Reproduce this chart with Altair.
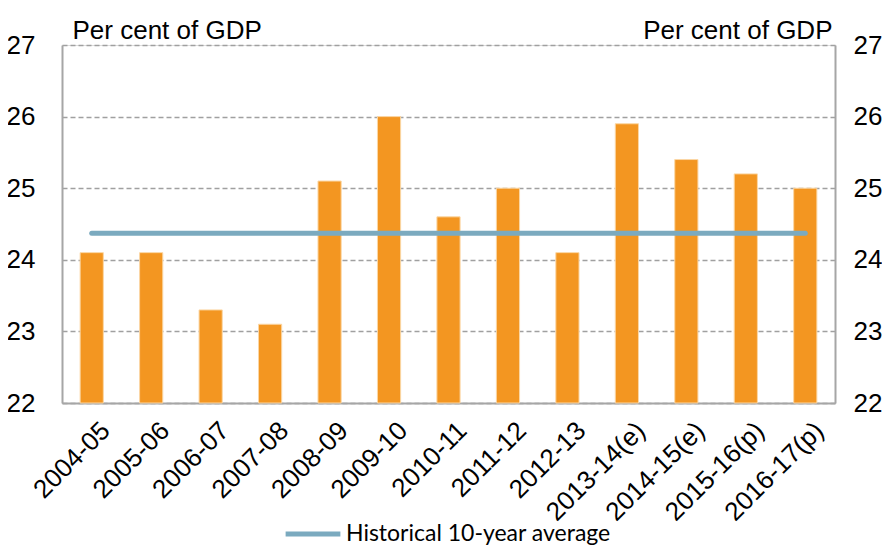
import altair as alt
import pandas as pd

categories = ["2004-05", "2005-06", "2006-07", "2007-08", "2008-09", "2009-10",
              "2010-11", "2011-12", "2012-13", "2013-14(e)", "2014-15(e)",
              "2015-16(p)", "2016-17(p)"]
values = [24.1, 24.1, 23.3, 23.1, 25.1, 26.0, 24.6, 25.0, 24.1, 25.9, 25.4, 25.2, 25.0]
average = [24.37] * len(categories)
series_name = "Historical 10-year average"
y_ticks = [22, 23, 24, 25, 26, 27]

df = pd.DataFrame({"cat": categories, "value": values, "avg": average,
                   "series": [series_name] * len(categories)})

FONT = "Liberation Sans"
GRID = "#A0A0A0"
AXIS = "#A6A6A6"

xenc = alt.X("cat:N", sort=categories, title=None,
             scale=alt.Scale(paddingInner=0.61, paddingOuter=0.305),
             axis=alt.Axis(labelAngle=-45, labelFont=FONT, labelFontSize=26,
                           labelColor="#000000", domainColor=AXIS, domainWidth=2,
                           ticks=False, labelPadding=14, labelOffset=5, grid=False))

yscale = alt.Scale(domain=[22, 27], zero=False, nice=False)

bars = alt.Chart(df).mark_bar(color="#F39621", stroke="#FBD7A5", strokeWidth=1).encode(
    x=xenc,
    y=alt.Y("value:Q", scale=yscale,
            axis=alt.Axis(orient="left", values=y_ticks, title="Per cent of GDP",
                          titleAngle=0, titleX=10, titleY=-7, titleAlign="left",
                          titleBaseline="alphabetic", titleFont=FONT,
                          titleFontSize=26, titleFontWeight="normal",
                          titleColor="#000000",
                          labelFont=FONT, labelFontSize=26, labelColor="#000000",
                          labelPadding=27, ticks=False, domainColor=AXIS,
                          domainWidth=2, grid=True, gridColor=GRID,
                          gridDash=[5, 3], gridWidth=1.5)),
    y2=alt.datum(22),
)

line = alt.Chart(df).mark_line(strokeWidth=5, strokeCap="round").encode(
    x=alt.X("cat:N", sort=categories),
    y=alt.Y("avg:Q", scale=yscale,
            axis=alt.Axis(orient="right", values=y_ticks, title="Per cent of GDP",
                          titleAngle=0, titleX=-3, titleY=-7, titleAlign="right",
                          titleBaseline="alphabetic", titleFont=FONT,
                          titleFontSize=26, titleFontWeight="normal",
                          titleColor="#000000",
                          labelFont=FONT, labelFontSize=26, labelColor="#000000",
                          labelPadding=18, ticks=False, domainColor=AXIS,
                          domainWidth=2, grid=False)),
    color=alt.Color("series:N", title=None,
                    scale=alt.Scale(range=["#7BAABF"]),
                    legend=alt.Legend(orient="none", legendX=221, legendY=459,
                                      symbolType="stroke", symbolSize=3000,
                                      symbolStrokeWidth=5, labelFont="Lato",
                                      labelFontSize=23, labelColor="#000000",
                                      labelLimit=400, labelOffset=3)),
)

chart = alt.layer(bars, line).resolve_scale(y="independent").properties(
    width=773, height=358,
    autosize=alt.AutoSizeParams(type="none"),
    padding={"left": 54, "top": 37, "right": 47, "bottom": 144},
).configure_view(stroke=None).configure(background="white")

chart.save("out.html", embed_options={"renderer": "svg", "actions": False})
